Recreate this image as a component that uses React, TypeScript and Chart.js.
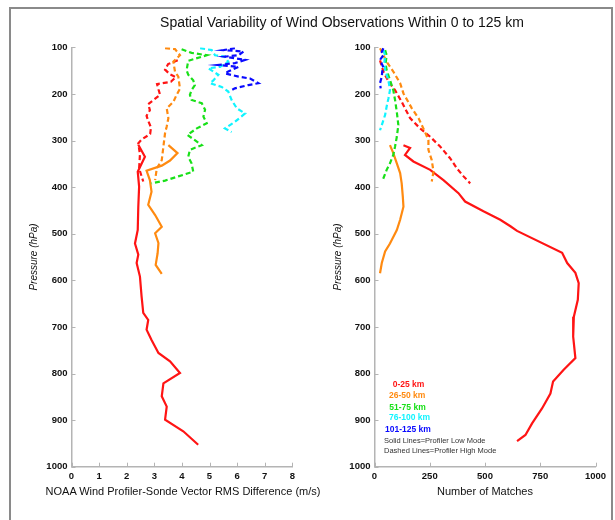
import React, { useEffect, useRef } from "react";
import { Chart, registerables } from "chart.js";

Chart.register(...registerables);
Chart.defaults.font.family = "'Liberation Sans', Arial, sans-serif";

// ---------- Left panel: RMS vector difference (m/s) vs pressure (hPa) ----------
const rmsRedLowP = [309, 335, 367, 399, 442, 492, 521, 545, 563, 592, 635, 670, 685, 706, 728, 756, 774, 799, 821, 849, 871, 899, 924, 953];
const rmsRedLowV = [2.42, 2.66, 2.4, 2.45, 2.42, 2.4, 2.3, 2.42, 2.36, 2.48, 2.54, 2.6, 2.78, 2.72, 2.9, 3.15, 3.57, 3.93, 3.33, 3.27, 3.45, 3.39, 4.05, 4.59];
const rmsRedHighP = [128, 136, 148, 158, 164, 174, 179, 190, 202, 214, 222, 235, 247, 258, 272, 286, 298, 306, 330, 360, 388];
const rmsRedHighV = [3.85, 3.5, 3.39, 3.57, 3.78, 3.6, 3.1, 3.15, 3.21, 2.95, 2.78, 2.84, 2.72, 2.78, 2.88, 2.85, 2.54, 2.42, 2.48, 2.45, 2.6];
const rmsOrangeLowP = [310, 327, 343, 354, 365, 385, 410, 438, 460, 485, 499, 520, 542, 567, 586];
const rmsOrangeLowV = [3.51, 3.84, 3.57, 3.27, 2.72, 2.84, 2.9, 2.78, 3.03, 3.27, 3.03, 3.15, 3.12, 3.05, 3.27];
const rmsOrangeHighP = [102, 104, 117, 131, 152, 163, 189, 202, 217, 231, 252, 270, 284, 313, 342, 360, 385];
const rmsOrangeHighV = [3.39, 3.75, 3.93, 3.69, 3.75, 3.87, 3.93, 3.81, 3.69, 3.45, 3.51, 3.45, 3.39, 3.33, 3.27, 3.09, 3.03];
const rmsGreenHighP = [104, 112, 117, 129, 149, 159, 171, 181, 192, 202, 213, 220, 234, 249, 263, 274, 288, 310, 320, 335, 349, 367, 377, 386, 392];
const rmsGreenHighV = [3.99, 4.35, 4.9, 4.23, 4.17, 4.23, 4.41, 4.47, 4.35, 4.29, 4.35, 4.72, 4.84, 4.78, 4.9, 4.54, 4.2, 4.72, 4.29, 4.23, 4.35, 4.41, 3.87, 3.39, 2.9];
const rmsCyanHighP = [102, 106, 117, 120, 131, 142, 145, 159, 171, 177, 185, 195, 213, 231, 242, 260, 274, 282];
const rmsCyanHighV = [4.66, 5.08, 5.2, 5.56, 5.68, 5.38, 4.96, 5.32, 5.14, 5.02, 5.44, 5.68, 5.8, 5.99, 6.29, 5.92, 5.56, 5.8];
const rmsBlueHighP = [102, 106, 109, 117, 120, 127, 134, 138, 142, 152, 156, 163, 167, 177, 181, 188, 192];
const rmsBlueHighV = [5.92, 5.5, 6.23, 6.05, 5.56, 6.29, 5.92, 5.32, 6.05, 5.68, 5.56, 6.05, 6.47, 6.77, 6.41, 5.92, 5.8];

// ---------- Right panel: number of matches vs pressure (hPa) ----------
const nRedLowP = [310, 316, 331, 345, 363, 385, 413, 431, 452, 470, 484, 494, 541, 563, 584, 606, 642, 678, 721, 767, 792, 817, 843, 875, 907, 932, 945];
const nRedLowV = [131, 161, 138, 176, 252, 312, 380, 410, 493, 569, 615, 645, 849, 872, 909, 924, 920, 902, 899, 909, 856, 808, 796, 758, 713, 683, 645];
const nRedHighP = [128, 152, 175, 192, 217, 252, 274, 292, 313, 338, 360, 377, 392];
const nRedHighV = [25, 40, 65, 93, 123, 161, 206, 252, 297, 342, 373, 403, 433];
const nOrangeLowP = [310, 327, 349, 370, 392, 420, 442, 470, 492, 521, 538, 563, 585];
const nOrangeLowV = [70, 85, 101, 116, 123, 128, 131, 116, 101, 70, 48, 33, 25];
const nOrangeHighP = [102, 131, 152, 177, 199, 231, 252, 274, 299, 320, 342, 367, 388];
const nOrangeHighV = [25, 55, 85, 116, 131, 169, 199, 221, 244, 244, 259, 267, 259];
const nGreenHighP = [106, 117, 135, 149, 170, 192, 213, 239, 267, 292, 313, 331, 349, 363, 385];
const nGreenHighV = [48, 55, 50, 55, 70, 85, 93, 101, 108, 101, 93, 85, 70, 55, 37];
const nCyanHighP = [106, 117, 131, 149, 171, 192, 210, 227, 245, 267, 278];
const nCyanHighV = [40, 48, 45, 48, 63, 70, 63, 55, 48, 33, 25];
const nBlueHighP = [102, 110, 117, 125, 135, 143, 152, 163, 177, 188];
const nBlueHighV = [40, 33, 40, 28, 33, 40, 35, 33, 25, 28];

// ---------- Text ----------
const TITLE = "Spatial Variability of Wind Observations Within 0 to 125 km";
const LEFT_X_TITLE = "NOAA Wind Profiler-Sonde Vector RMS Difference (m/s)";
const RIGHT_X_TITLE = "Number of Matches";
const Y_TITLE = "Pressure (hPa)";
const RANGE_LABELS = ["0-25 km", "26-50 km", "51-75 km", "76-100 km", "101-125 km"];
const MODE_LABELS = ["Solid Lines=Profiler Low Mode", "Dashed Lines=Profiler High Mode"];

const RED = "#ff1414";
const ORANGE = "#ff8a10";
const GREEN = "#18e018";
const CYAN = "#10f4ff";
const BLUE = "#0a0aff";
const RANGE_COLORS = [RED, ORANGE, GREEN, CYAN, BLUE];
const AXIS = "#b4b4b4";
const FONT = "'Liberation Sans', Arial, sans-serif";

function series(p: number[], v: number[], color: string, dashed: boolean) {
  return {
    data: p.map((pp, i) => ({ x: v[i], y: pp })),
    borderColor: color,
    backgroundColor: color,
    borderWidth: 2.2,
    borderDash: dashed ? [5, 3] : [],
    pointRadius: 0,
    tension: 0,
    fill: false,
  };
}

const inwardTicks = {
  id: "inwardTicks",
  afterDraw(chart: any) {
    const ctx = chart.ctx;
    const { left, bottom } = chart.chartArea;
    const xs = chart.scales.x;
    const ys = chart.scales.y;
    ctx.save();
    ctx.strokeStyle = AXIS;
    ctx.lineWidth = 1;
    xs.ticks.forEach((t: any) => {
      const px = Math.round(xs.getPixelForValue(t.value)) + 0.5;
      ctx.beginPath();
      ctx.moveTo(px, bottom);
      ctx.lineTo(px, bottom - 4);
      ctx.stroke();
    });
    ys.ticks.forEach((t: any) => {
      const py = Math.round(ys.getPixelForValue(t.value)) + 0.5;
      ctx.beginPath();
      ctx.moveTo(left, py);
      ctx.lineTo(left + 4, py);
      ctx.stroke();
    });
    ctx.restore();
  },
};

const tickFont = { size: 9.5, weight: "bold", family: FONT };

function makeConfig(datasets: any[], xMax: number, xStep: number, yWidth: number, padRight: number, yTitlePad: number) {
  return {
    type: "line",
    data: { datasets },
    options: {
      animation: false,
      responsive: false,
      maintainAspectRatio: false,
      layout: { padding: { top: 47.3, right: padRight, bottom: 0, left: 0 } },
      plugins: { legend: { display: false }, tooltip: { enabled: false } },
      scales: {
        x: {
          type: "linear",
          min: 0,
          max: xMax,
          ticks: { stepSize: xStep, padding: 4, color: "#111", font: tickFont, callback: (v: any) => String(v) },
          grid: { display: false, drawTicks: false },
          border: { display: true, color: AXIS, width: 1.5 },
          title: { display: false },
          afterFit: (s: any) => {
            s.height = 53.3;
          },
        },
        y: {
          type: "linear",
          reverse: true,
          min: 100,
          max: 1000,
          ticks: { stepSize: 100, padding: 4, color: "#111", font: tickFont, callback: (v: any) => String(v) },
          grid: { display: false, drawTicks: false },
          border: { display: true, color: AXIS, width: 1.5 },
          title: { display: true, text: Y_TITLE, color: "#111", font: { size: 10, style: "italic", family: FONT }, padding: { top: yTitlePad, bottom: 0 } },
          afterFit: (s: any) => {
            s.width = yWidth;
          },
        },
      },
    },
    plugins: [inwardTicks],
  } as any;
}

function Panel({ config, left, width }: { config: any; left: number; width: number }) {
  const ref = useRef<HTMLCanvasElement | null>(null);
  useEffect(() => {
    const chart = new Chart(ref.current as HTMLCanvasElement, config);
    return () => chart.destroy();
  }, [config]);
  return (
    <canvas
      ref={ref}
      width={width}
      height={520}
      style={{ position: "absolute", left, top: 0, width, height: 520 }}
    />
  );
}

const leftDatasets = [
  series(rmsBlueHighP, rmsBlueHighV, BLUE, true),
  series(rmsCyanHighP, rmsCyanHighV, CYAN, true),
  series(rmsGreenHighP, rmsGreenHighV, GREEN, true),
  series(rmsOrangeHighP, rmsOrangeHighV, ORANGE, true),
  series(rmsOrangeLowP, rmsOrangeLowV, ORANGE, false),
  series(rmsRedHighP, rmsRedHighV, RED, true),
  series(rmsRedLowP, rmsRedLowV, RED, false),
];
const rightDatasets = [
  series(nBlueHighP, nBlueHighV, BLUE, true),
  series(nCyanHighP, nCyanHighV, CYAN, true),
  series(nGreenHighP, nGreenHighV, GREEN, true),
  series(nOrangeHighP, nOrangeHighV, ORANGE, true),
  series(nOrangeLowP, nOrangeLowV, ORANGE, false),
  series(nRedHighP, nRedHighV, RED, true),
  series(nRedLowP, nRedLowV, RED, false),
];

const leftConfig = makeConfig(leftDatasets, 8, 1, 71.5, 12.7, 28);
const rightConfig = makeConfig(rightDatasets, 1000, 250, 69.5, 19.5, 27);

const rangeLeft = [392.7, 389, 389.3, 389, 385];
const rangeY = [384.3, 395.3, 406.7, 417.3, 429];

function Label({ text, cx, cy, size }: { text: string; cx: number; cy: number; size: number }) {
  return (
    <div
      style={{
        position: "absolute",
        left: cx - 200,
        width: 400,
        top: cy - 8,
        lineHeight: "16px",
        fontSize: size,
        textAlign: "center",
        color: "#111",
        whiteSpace: "nowrap",
      }}
    >
      {text}
    </div>
  );
}

export default function App() {
  return (
    <div
      style={{
        position: "absolute",
        left: 0,
        top: 0,
        width: 615,
        height: 520,
        overflow: "hidden",
        background: "#fff",
        fontFamily: FONT,
      }}
    >
      <div
        style={{
          position: "absolute",
          left: 9,
          top: 7,
          width: 600,
          height: 600,
          border: "2px solid #8a8a8a",
        }}
      />
      <Panel config={leftConfig} left={0} width={305} />
      <Panel config={rightConfig} left={305} width={310} />
      <Label text={TITLE} cx={342} cy={22} size={14} />
      <Label text={LEFT_X_TITLE} cx={183} cy={491} size={11} />
      <Label text={RIGHT_X_TITLE} cx={485} cy={491} size={11} />
      {RANGE_LABELS.map((t, i) => (
        <div
          key={t}
          style={{
            position: "absolute",
            left: rangeLeft[i],
            top: rangeY[i] - 6,
            lineHeight: "12px",
            fontSize: 8.5,
            fontWeight: "bold",
            color: RANGE_COLORS[i],
            whiteSpace: "nowrap",
          }}
        >
          {t}
        </div>
      ))}
      {MODE_LABELS.map((t, i) => (
        <div
          key={t}
          style={{
            position: "absolute",
            left: 384,
            top: 441 + i * 10 - 5,
            lineHeight: "10px",
            fontSize: 7.5,
            color: "#333",
            whiteSpace: "nowrap",
          }}
        >
          {t}
        </div>
      ))}
    </div>
  );
}
